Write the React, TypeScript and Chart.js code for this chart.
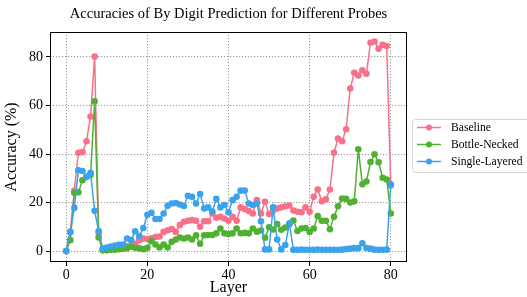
import React, { useEffect, useRef } from "react";
import { Chart, registerables } from "chart.js";
Chart.register(...registerables);

const layers = [0,1,2,3,4,5,6,7,8,9,10,11,12,13,14,15,16,17,18,19,20,21,22,23,24,25,26,27,28,29,30,31,32,33,34,35,36,37,38,39,40,41,42,43,44,45,46,47,48,49,50,51,52,53,54,55,56,57,58,59,60,61,62,63,64,65,66,67,68,69,70,71,72,73,74,75,76,77,78,79,80];

const baseline = [0,8,25,40.5,40.8,45.3,55.5,80.2,7.5,0.5,0.8,1,1.2,1.4,1.6,2,2.2,3,4.5,5.2,5,5.3,5.8,6,7.9,8.6,9.1,7.9,10.7,12.1,12.5,12.8,12.5,10,12.3,12.3,15.5,13.7,14.1,13.4,12.5,14.1,12.5,18,17.3,16.5,15.5,21,15.5,20.3,15.3,16.7,17.6,18,18.5,18.8,16.7,16.2,16,18,16.2,22.4,25.4,20.5,21.3,25.4,40.5,46.4,45.3,50.2,67,73.5,72.4,74.5,73.1,85.9,86.4,83.4,85,84.5,27];

const bottleNecked = [0,4.5,24,24.2,29.2,30.6,31.5,61.7,5.6,0.3,0.3,0.5,0.6,0.8,1,1.2,1.8,1.4,1.1,0.8,1.4,4.1,2.7,1.5,2.7,1.5,3.8,4.8,5.6,5.2,5.6,4.8,6.5,3,6.5,6.6,6.6,7.3,9.3,7.3,7,7.3,9.3,7.3,7.5,7.3,9.3,8,8.5,5.5,9.8,8.9,11.1,8.8,9.7,11.1,12.6,8.3,9.3,9.5,7.9,9.3,14.4,12.5,12.5,9,14.1,18.5,21.7,21.5,20,20.5,42,27.5,28.7,36.7,39.9,36.6,30.2,29.5,15.5];

const singleLayered = [0,7.8,17.8,33.3,33,30.6,32.3,16.6,8.2,1,1.5,1.9,2.3,2.6,2.7,5.2,4.5,8.2,6.2,9.5,15,15.8,13.2,13.2,15.5,18.7,19.6,19.8,19.2,18.6,22.8,22.4,19.6,23.5,17.6,18,16.3,21.5,18,19,16,21,22.4,24.9,25,19.6,19,19.6,12.3,0.7,0.7,18,4.8,0.7,2.5,11.4,0.5,0.5,0.6,0.5,0.5,0.5,0.6,0.5,0.5,0.5,0.5,0.5,0.6,0.8,1,1.2,1.2,3.2,1.3,1,0.6,0.5,0.5,0.6,27.5];

const xTicks = [0, 20, 40, 60, 80];
const yTicks = [0, 20, 40, 60, 80];

const seriesNames = ["Baseline", "Bottle-Necked", "Single-Layered"];
const seriesColors = ["#f77189", "#50b131", "#3ba3ec"];

const FONT = "'Liberation Serif', 'Times New Roman', serif";

const frameAndLegend = {
  id: "frameAndLegend",
  afterDraw(chart: any) {
    const { ctx, chartArea } = chart;
    ctx.save();
    ctx.strokeStyle = "#000";
    ctx.lineWidth = 1;
    const l = Math.round(chartArea.left) + 0.5;
    const t = Math.round(chartArea.top) + 0.5;
    const r = Math.round(chartArea.right) - 0.5;
    const b = Math.round(chartArea.bottom) - 0.5;
    ctx.strokeRect(l, t, r - l, b - t);
    // legend
    const bx = 412.5, by = 119.5, bw = 120, bh = 53, rad = 3;
    ctx.beginPath();
    ctx.moveTo(bx + rad, by);
    ctx.lineTo(bx + bw - rad, by);
    ctx.arcTo(bx + bw, by, bx + bw, by + rad, rad);
    ctx.lineTo(bx + bw, by + bh - rad);
    ctx.arcTo(bx + bw, by + bh, bx + bw - rad, by + bh, rad);
    ctx.lineTo(bx + rad, by + bh);
    ctx.arcTo(bx, by + bh, bx, by + bh - rad, rad);
    ctx.lineTo(bx, by + rad);
    ctx.arcTo(bx, by, bx + rad, by, rad);
    ctx.closePath();
    ctx.fillStyle = "rgba(255,255,255,0.8)";
    ctx.fill();
    ctx.strokeStyle = "#d6d6d6";
    ctx.stroke();
    const ys = [127.5, 144.5, 161.5];
    ctx.font = `11.6px ${FONT}`;
    ctx.textBaseline = "middle";
    ctx.textAlign = "left";
    seriesNames.forEach((name, i) => {
      const y = ys[i];
      ctx.strokeStyle = seriesColors[i];
      ctx.lineWidth = 1.5;
      ctx.beginPath();
      ctx.moveTo(417, y);
      ctx.lineTo(441, y);
      ctx.stroke();
      ctx.fillStyle = seriesColors[i];
      ctx.beginPath();
      ctx.arc(429, y, 3, 0, Math.PI * 2);
      ctx.fill();
      ctx.fillStyle = "#000";
      ctx.fillText(name, 451, y + 0.5);
    });
    ctx.restore();
  },
};

export default function App() {
  const ref = useRef<HTMLCanvasElement>(null);
  useEffect(() => {
    document.body.style.margin = "0";
    const series = [baseline, bottleNecked, singleLayered];
    const datasets = series.map((vals, i) => ({
      label: seriesNames[i],
      data: vals.map((v, j) => ({ x: layers[j], y: v })),
      borderColor: seriesColors[i],
      backgroundColor: seriesColors[i],
      pointBackgroundColor: seriesColors[i],
      pointBorderWidth: 0,
      pointRadius: 3.3,
      borderWidth: 1.5,
      tension: 0,
      order: 2 - i,
    }));
    const chart = new Chart(ref.current!, {
      type: "line",
      data: { datasets },
      plugins: [frameAndLegend],
      options: {
        animation: false,
        responsive: false,
        devicePixelRatio: 1,
        layout: { padding: { left: 0, right: 120, top: 0, bottom: 0 } },
        plugins: {
          legend: { display: false },
          tooltip: { enabled: false },
          title: {
            display: true,
            text: "Accuracies of By Digit Prediction for Different Probes",
            fullSize: false,
            color: "#000",
            font: { family: FONT, size: 14.5, weight: "normal" },
            padding: { top: 5, bottom: 9.6 },
          },
        },
        scales: {
          x: {
            type: "linear",
            min: -4,
            max: 84,
            afterBuildTicks: (axis: any) => {
              axis.ticks = xTicks.map((v) => ({ value: v }));
            },
            afterFit: (s: any) => {
              s.height = 35;
            },
            grid: { color: "#9a9a9a", lineWidth: 1, tickColor: "#000", tickLength: 4, tickWidth: 1 },
            border: { display: false, dash: [1.2, 1.8] },
            ticks: { color: "#000", font: { family: FONT, size: 14 }, padding: 1, maxRotation: 0 },
            title: { display: true, text: "Layer", color: "#000", font: { family: FONT, size: 16 }, padding: { top: 0, bottom: 0 } },
          },
          y: {
            type: "linear",
            min: -4.5,
            max: 90.3,
            afterBuildTicks: (axis: any) => {
              axis.ticks = yTicks.map((v) => ({ value: v }));
            },
            afterFit: (s: any) => {
              s.width = 50;
            },
            grid: { color: "#9a9a9a", lineWidth: 1, tickColor: "#000", tickLength: 4, tickWidth: 1 },
            border: { display: false, dash: [1.2, 1.8] },
            ticks: { color: "#000", font: { family: FONT, size: 14 }, padding: 3 },
            title: { display: true, text: "Accuracy (%)", color: "#000", font: { family: FONT, size: 16 }, padding: { top: 2.5, bottom: 0 } },
          },
        },
      },
    });
    return () => chart.destroy();
  }, []);
  return (
    <div style={{ position: "absolute", left: 0, top: 0, width: 527, height: 297 }}>
      <canvas ref={ref} width={527} height={297} />
    </div>
  );
}
